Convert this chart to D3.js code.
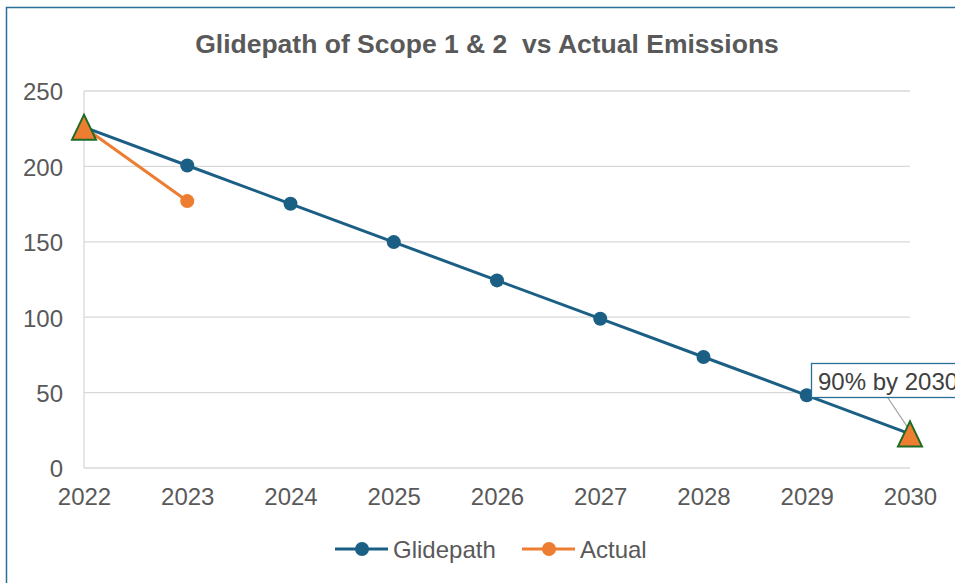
<!DOCTYPE html>
<html lang="en">
<head>
<meta charset="utf-8">
<script src="https://d3js.org/d3.v7.min.js"></script>
<style>
  body { margin: 0; background: #fff; }
  svg { display: block; font-family: "Liberation Sans", Arial, sans-serif; }
</style>
</head>
<body>
<svg id="chart" width="955" height="583"></svg>
<script>
var years = [2022, 2023, 2024, 2025, 2026, 2027, 2028, 2029, 2030];
var glidepath = [226, 200.6, 175.2, 149.8, 124.4, 99, 73.6, 48.2, 22.6];
var actualYears = [2022, 2023];
var actual = [226, 177];
var yTicks = [0, 50, 100, 150, 200, 250];
var targetLabel = '90% by 2030';

var blue = '#1b5f84', orange = '#ed7d31', grey = '#595959';
var fontFam = '"Liberation Sans", Arial, sans-serif';

var svg = d3.select('#chart');

// chart frame
svg.append('rect')
  .attr('x', 6.5).attr('y', 7.5)
  .attr('width', 1000).attr('height', 1000)
  .attr('fill', '#fff')
  .attr('stroke', '#2a6f97')
  .attr('stroke-width', 1.5);

var margin = { left: 84, right: 45, top: 91, bottom: 115 };
var width = 955 - margin.left - margin.right,
    height = 583 - margin.top - margin.bottom;

var x = d3.scalePoint().domain(years).range([0, width]);
var y = d3.scaleLinear().domain([0, 250]).range([height, 0]);

var g = svg.append('g')
  .attr('transform', 'translate(' + margin.left + ',' + margin.top + ')');

// title
svg.append('text')
  .attr('x', 487).attr('y', 53)
  .attr('text-anchor', 'middle')
  .attr('fill', grey)
  .style('font-size', '26.5px')
  .style('font-weight', 'bold')
  .style('white-space', 'pre')
  .text('Glidepath of Scope 1 & 2  vs Actual Emissions');

// gridlines
g.selectAll('.grid')
  .data(yTicks)
  .enter().append('line')
  .attr('x1', 0).attr('x2', width)
  .attr('y1', d => y(d)).attr('y2', d => y(d))
  .attr('stroke', '#d9d9d9')
  .attr('stroke-width', 1.3);

// y axis
var gy = g.append('g')
  .call(d3.axisLeft(y).tickValues(yTicks).tickSize(0).tickPadding(21));
gy.select('.domain').remove();
gy.selectAll('text').attr('fill', grey).attr('dy', '0.37em')
  .style('font-size', '24px').attr('font-family', fontFam);

// left vertical line
g.append('line')
  .attr('x1', 0).attr('x2', 0)
  .attr('y1', y(250)).attr('y2', y(0))
  .attr('stroke', '#d9d9d9').attr('stroke-width', 1.3);

// x axis
var gx = g.append('g')
  .attr('transform', 'translate(0,' + height + ')')
  .call(d3.axisBottom(x).tickSize(0).tickPadding(20));
gx.select('.domain').remove();
gx.selectAll('text').attr('fill', grey)
  .style('font-size', '24px').attr('font-family', fontFam);

var line = d3.line().x(d => x(d[0])).y(d => y(d[1]));

var gData = years.map((yr, i) => [yr, glidepath[i]]);
var aData = actualYears.map((yr, i) => [yr, actual[i]]);

// actual series
g.append('path')
  .datum(aData)
  .attr('d', line)
  .attr('fill', 'none')
  .attr('stroke', orange)
  .attr('stroke-width', 3);

// glidepath series
g.append('path')
  .datum(gData)
  .attr('d', line)
  .attr('fill', 'none')
  .attr('stroke', blue)
  .attr('stroke-width', 3);

g.selectAll('.gdot')
  .data(gData.slice(1, -1))
  .enter().append('circle')
  .attr('cx', d => x(d[0])).attr('cy', d => y(d[1]))
  .attr('r', 7).attr('fill', blue);

g.selectAll('.adot')
  .data(aData.slice(1))
  .enter().append('circle')
  .attr('cx', d => x(d[0])).attr('cy', d => y(d[1]))
  .attr('r', 7).attr('fill', orange);

// label leader line
var last = gData[gData.length - 1];
g.append('line')
  .attr('x1', x(last[0]) - 22).attr('y1', 398 - margin.top)
  .attr('x2', x(last[0])).attr('y2', y(last[1]) - 3)
  .attr('stroke', '#a6a6a6').attr('stroke-width', 1.3);

// triangles at start and target
g.selectAll('.tri')
  .data([gData[0], last])
  .enter().append('path')
  .attr('d', 'M0,-12.5L12,12.5L-12,12.5Z')
  .attr('transform', d => 'translate(' + x(d[0]) + ',' + y(d[1]) + ')')
  .attr('fill', orange)
  .attr('stroke', '#1e6b26')
  .attr('stroke-width', 2);

// data label box
var lab = svg.append('g').attr('transform', 'translate(811,363)');
lab.append('rect')
  .attr('x', 0.5).attr('y', 0.5)
  .attr('width', 200).attr('height', 34)
  .attr('fill', '#fff')
  .attr('stroke', '#2a6f97').attr('stroke-width', 1.3);
lab.append('text')
  .attr('x', 7).attr('y', 27)
  .attr('fill', '#404040')
  .style('font-size', '24px')
  .text(targetLabel);

// legend
var legend = svg.append('g').attr('transform', 'translate(0,549)');
var items = [
  { name: 'Glidepath', color: blue, x: 335 },
  { name: 'Actual', color: orange, x: 522 }
];
items.forEach(function(it) {
  legend.append('line')
    .attr('x1', it.x).attr('x2', it.x + 53)
    .attr('stroke', it.color).attr('stroke-width', 3);
  legend.append('circle')
    .attr('cx', it.x + 27).attr('r', 7).attr('fill', it.color);
  legend.append('text')
    .attr('x', it.x + 58).attr('y', 8.5)
    .attr('fill', grey)
    .style('font-size', '24px')
    .text(it.name);
});
</script>
</body>
</html>
